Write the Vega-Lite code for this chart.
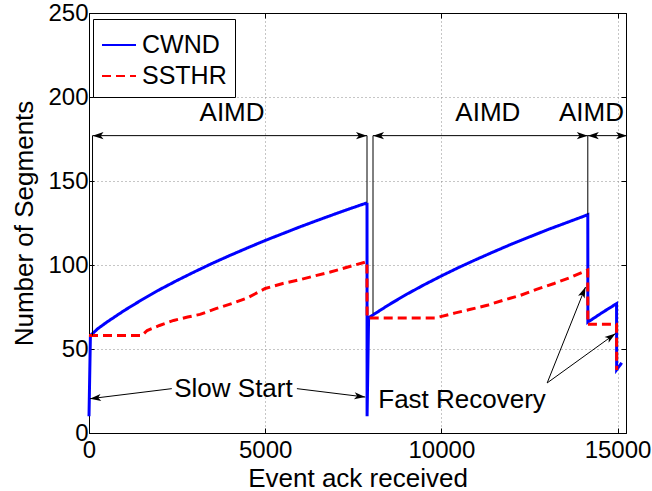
{
  "$schema": "https://vega.github.io/schema/vega-lite/v6.json",
  "width": 537,
  "height": 420,
  "autosize": {"type": "none"},
  "padding": {"left": 89, "top": 13, "right": 26, "bottom": 58},
  "background": "white",
  "datasets": {
    "series": [
      {"series": "CWND", "x": 0, "y": 10},
      {"series": "CWND", "x": 40, "y": 58},
      {"series": "CWND", "x": 250, "y": 62.1},
      {"series": "CWND", "x": 500, "y": 65.9},
      {"series": "CWND", "x": 1000, "y": 72.9},
      {"series": "CWND", "x": 1500, "y": 79.3},
      {"series": "CWND", "x": 2000, "y": 85.3},
      {"series": "CWND", "x": 2500, "y": 90.8},
      {"series": "CWND", "x": 3000, "y": 96.0},
      {"series": "CWND", "x": 3500, "y": 101.0},
      {"series": "CWND", "x": 4000, "y": 105.7},
      {"series": "CWND", "x": 4500, "y": 110.2},
      {"series": "CWND", "x": 5000, "y": 114.6},
      {"series": "CWND", "x": 5500, "y": 118.7},
      {"series": "CWND", "x": 6000, "y": 122.8},
      {"series": "CWND", "x": 6500, "y": 126.7},
      {"series": "CWND", "x": 7000, "y": 130.5},
      {"series": "CWND", "x": 7500, "y": 134.2},
      {"series": "CWND", "x": 7890, "y": 137},
      {"series": "CWND", "x": 7892, "y": 10},
      {"series": "CWND", "x": 7935, "y": 68.5},
      {"series": "CWND", "x": 8000, "y": 69.5},
      {"series": "CWND", "x": 8500, "y": 76.2},
      {"series": "CWND", "x": 9000, "y": 82.4},
      {"series": "CWND", "x": 9500, "y": 88.1},
      {"series": "CWND", "x": 10000, "y": 93.5},
      {"series": "CWND", "x": 10500, "y": 98.6},
      {"series": "CWND", "x": 11000, "y": 103.4},
      {"series": "CWND", "x": 11500, "y": 108.0},
      {"series": "CWND", "x": 12000, "y": 112.5},
      {"series": "CWND", "x": 12500, "y": 116.7},
      {"series": "CWND", "x": 13000, "y": 120.9},
      {"series": "CWND", "x": 13500, "y": 124.8},
      {"series": "CWND", "x": 14000, "y": 128.7},
      {"series": "CWND", "x": 14156, "y": 130},
      {"series": "CWND", "x": 14158, "y": 66},
      {"series": "CWND", "x": 14560, "y": 71.6},
      {"series": "CWND", "x": 14972, "y": 77},
      {"series": "CWND", "x": 14975, "y": 37.7},
      {"series": "CWND", "x": 15120, "y": 41.8},
      {"series": "SSTHR", "x": 0, "y": 58},
      {"series": "SSTHR", "x": 1500, "y": 58},
      {"series": "SSTHR", "x": 1650, "y": 61},
      {"series": "SSTHR", "x": 2000, "y": 64},
      {"series": "SSTHR", "x": 2400, "y": 67},
      {"series": "SSTHR", "x": 2800, "y": 69},
      {"series": "SSTHR", "x": 3150, "y": 70.6},
      {"series": "SSTHR", "x": 3600, "y": 74},
      {"series": "SSTHR", "x": 4100, "y": 77.4},
      {"series": "SSTHR", "x": 4500, "y": 80.5},
      {"series": "SSTHR", "x": 5000, "y": 86},
      {"series": "SSTHR", "x": 5500, "y": 89},
      {"series": "SSTHR", "x": 6000, "y": 91.3},
      {"series": "SSTHR", "x": 6400, "y": 93.5},
      {"series": "SSTHR", "x": 6850, "y": 95.8},
      {"series": "SSTHR", "x": 7300, "y": 98.5},
      {"series": "SSTHR", "x": 7888, "y": 102},
      {"series": "SSTHR", "x": 7893, "y": 68.5},
      {"series": "SSTHR", "x": 9830, "y": 68.5},
      {"series": "SSTHR", "x": 10400, "y": 71.5},
      {"series": "SSTHR", "x": 10800, "y": 73.5},
      {"series": "SSTHR", "x": 11300, "y": 76},
      {"series": "SSTHR", "x": 11750, "y": 79},
      {"series": "SSTHR", "x": 12250, "y": 82},
      {"series": "SSTHR", "x": 12700, "y": 85.5},
      {"series": "SSTHR", "x": 13200, "y": 89},
      {"series": "SSTHR", "x": 13650, "y": 92.5},
      {"series": "SSTHR", "x": 14100, "y": 96.5},
      {"series": "SSTHR", "x": 14154, "y": 97},
      {"series": "SSTHR", "x": 14157, "y": 64.7},
      {"series": "SSTHR", "x": 14972, "y": 64.7},
      {"series": "SSTHR", "x": 14976, "y": 37.5}
    ],
    "annot": [
      {"id": "a1", "x": 100, "y": 177},
      {"id": "a1", "x": 7890, "y": 177},
      {"id": "a2", "x": 8060, "y": 177},
      {"id": "a2", "x": 14156, "y": 177},
      {"id": "a3", "x": 14156, "y": 177},
      {"id": "a3", "x": 15270, "y": 177},
      {"id": "v1", "x": 100, "y": 177},
      {"id": "v1", "x": 100, "y": 58},
      {"id": "v2", "x": 7890, "y": 177},
      {"id": "v2", "x": 7890, "y": 137},
      {"id": "v3", "x": 8060, "y": 177},
      {"id": "v3", "x": 8060, "y": 71},
      {"id": "v4", "x": 14156, "y": 177},
      {"id": "v4", "x": 14156, "y": 130},
      {"id": "s1", "x": 2350, "y": 26.4},
      {"id": "s1", "x": 28, "y": 20.4},
      {"id": "s2", "x": 5900, "y": 26.4},
      {"id": "s2", "x": 7841, "y": 21.4},
      {"id": "f1", "x": 13003, "y": 29.8},
      {"id": "f1", "x": 14091, "y": 86.9},
      {"id": "f2", "x": 13003, "y": 29.8},
      {"id": "f2", "x": 14943, "y": 59.2}
    ],
    "heads": [
      {"head": "R", "x": 7890, "y": 177},
      {"head": "R", "x": 14156, "y": 177},
      {"head": "R", "x": 15270, "y": 177},
      {"head": "L", "x": 100, "y": 177},
      {"head": "L", "x": 8060, "y": 177},
      {"head": "L", "x": 14156, "y": 177},
      {"head": "SSL", "x": 28, "y": 20.4},
      {"head": "SSR", "x": 7841, "y": 21.4},
      {"head": "FR1", "x": 14091, "y": 86.9},
      {"head": "FR2", "x": 14943, "y": 59.2}
    ],
    "labels": [
      {"x": 4060, "y": 186, "text": "AIMD"},
      {"x": 11320, "y": 186, "text": "AIMD"},
      {"x": 14260, "y": 186, "text": "AIMD"},
      {"x": 4100, "y": 21.2, "text": "Slow Start"},
      {"x": 10587, "y": 15.1, "text": "Fast Recovery"}
    ]
  },
  "layer": [
    {
      "data": {"name": "series"},
      "transform": [{"filter": "datum.series === 'CWND'"}],
      "mark": {"type": "line", "strokeWidth": 3},
      "encoding": {
        "x": {"field": "x", "type": "quantitative", "scale": {"domain": [0, 15240], "nice": false},
          "axis": {"orient": "bottom", "values": [0, 5000, 10000, 15000], "format": "d", "title": "Event ack received",
            "grid": true, "gridDash": [1, 3], "gridColor": "#8c8c8c", "gridOpacity": 1, "tickSize": -5, "tickColor": "black",
            "domainColor": "black", "labelFontSize": 24, "labelColor": "black", "labelPadding": 10, "labelFlush": false,
            "titleFontSize": 26, "titleFontWeight": "normal", "titleColor": "black", "titleY": 53, "titleBaseline": "alphabetic"}},
        "y": {"field": "y", "type": "quantitative", "scale": {"domain": [0, 250], "nice": false},
          "axis": {"orient": "left", "values": [0, 50, 100, 150, 200, 250], "title": "Number of Segments",
            "grid": true, "gridDash": [1, 3], "gridColor": "#8c8c8c", "gridOpacity": 1, "tickSize": -5, "tickColor": "black",
            "domainColor": "black", "labelFontSize": 24, "labelColor": "black", "labelPadding": 6,
            "titleFontSize": 26, "titleFontWeight": "normal", "titleColor": "black", "titleX": -57, "titleY": 210,
            "titleAngle": 270, "titleAlign": "center", "titleBaseline": "alphabetic"}},
        "color": {"field": "series", "type": "nominal",
          "scale": {"domain": ["CWND", "SSTHR"], "range": ["#0000ff", "#ff0000"]},
          "legend": {"orient": "none", "legendX": 4, "legendY": 6, "title": null, "symbolType": "stroke", "symbolSize": 1156,
            "symbolStrokeWidth": 2, "labelFontSize": 25, "labelOffset": 5, "padding": 8, "rowPadding": 0,
            "strokeColor": "black", "fillColor": "white", "labelColor": "black", "cornerRadius": 0}},
        "strokeDash": {"field": "series", "type": "nominal",
          "scale": {"domain": ["CWND", "SSTHR"], "range": [[1, 0], [9, 5]]},
          "legend": {"orient": "none", "legendX": 4, "legendY": 6, "title": null, "symbolType": "stroke", "symbolSize": 1156,
            "symbolStrokeWidth": 2, "labelFontSize": 25, "labelOffset": 5, "padding": 8, "rowPadding": 0,
            "strokeColor": "black", "fillColor": "white", "labelColor": "black", "cornerRadius": 0}}
      }
    },
    {
      "data": {"name": "series"},
      "transform": [{"filter": "datum.series === 'SSTHR'"}],
      "mark": {"type": "line", "strokeWidth": 3},
      "encoding": {
        "x": {"field": "x", "type": "quantitative", "scale": {"domain": [0, 15240], "nice": false}, "axis": null},
        "y": {"field": "y", "type": "quantitative", "scale": {"domain": [0, 250], "nice": false}, "axis": null},
        "color": {"field": "series", "type": "nominal"},
        "strokeDash": {"field": "series", "type": "nominal"}
      }
    },
    {
      "data": {"name": "labels"},
      "mark": {"type": "point", "opacity": 0},
      "encoding": {
        "x": {"field": "x", "type": "quantitative", "scale": {"domain": [0, 15240], "nice": false},
          "axis": {"orient": "top", "values": [0, 5000, 10000, 15000], "labels": false, "title": null, "grid": false,
            "tickSize": -5, "tickColor": "black", "domainColor": "black"}},
        "y": {"field": "y", "type": "quantitative", "scale": {"domain": [0, 250], "nice": false},
          "axis": {"orient": "right", "values": [0, 50, 100, 150, 200, 250], "labels": false, "title": null, "grid": false,
            "tickSize": -5, "tickColor": "black", "domainColor": "black"}}
      }
    },
    {
      "data": {"name": "annot"},
      "mark": {"type": "line", "color": "black", "strokeWidth": 1},
      "encoding": {
        "x": {"field": "x", "type": "quantitative", "scale": {"domain": [0, 15240], "nice": false}, "axis": null},
        "y": {"field": "y", "type": "quantitative", "scale": {"domain": [0, 250], "nice": false}, "axis": null},
        "detail": {"field": "id", "type": "nominal"}
      }
    },
    {
      "data": {"name": "heads"},
      "transform": [{"filter": "datum.head === 'R'"}],
      "mark": {"type": "point", "shape": "M0,0L-1,-0.32L-0.75,0L-1,0.32Z", "filled": true, "color": "black", "opacity": 1, "size": 484, "angle": 0},
      "encoding": {
        "x": {"field": "x", "type": "quantitative", "axis": null},
        "y": {"field": "y", "type": "quantitative", "axis": null}
      }
    },
    {
      "data": {"name": "heads"},
      "transform": [{"filter": "datum.head === 'L'"}],
      "mark": {"type": "point", "shape": "M0,0L-1,-0.32L-0.75,0L-1,0.32Z", "filled": true, "color": "black", "opacity": 1, "size": 484, "angle": 180},
      "encoding": {
        "x": {"field": "x", "type": "quantitative", "axis": null},
        "y": {"field": "y", "type": "quantitative", "axis": null}
      }
    },
    {
      "data": {"name": "heads"},
      "transform": [{"filter": "datum.head === 'SSL'"}],
      "mark": {"type": "point", "shape": "M0,0L-1,-0.32L-0.75,0L-1,0.32Z", "filled": true, "color": "black", "opacity": 1, "size": 484, "angle": 173},
      "encoding": {
        "x": {"field": "x", "type": "quantitative", "axis": null},
        "y": {"field": "y", "type": "quantitative", "axis": null}
      }
    },
    {
      "data": {"name": "heads"},
      "transform": [{"filter": "datum.head === 'SSR'"}],
      "mark": {"type": "point", "shape": "M0,0L-1,-0.32L-0.75,0L-1,0.32Z", "filled": true, "color": "black", "opacity": 1, "size": 484, "angle": 7},
      "encoding": {
        "x": {"field": "x", "type": "quantitative", "axis": null},
        "y": {"field": "y", "type": "quantitative", "axis": null}
      }
    },
    {
      "data": {"name": "heads"},
      "transform": [{"filter": "datum.head === 'FR1'"}],
      "mark": {"type": "point", "shape": "M0,0L-1,-0.32L-0.75,0L-1,0.32Z", "filled": true, "color": "black", "opacity": 1, "size": 484, "angle": -67.7},
      "encoding": {
        "x": {"field": "x", "type": "quantitative", "axis": null},
        "y": {"field": "y", "type": "quantitative", "axis": null}
      }
    },
    {
      "data": {"name": "heads"},
      "transform": [{"filter": "datum.head === 'FR2'"}],
      "mark": {"type": "point", "shape": "M0,0L-1,-0.32L-0.75,0L-1,0.32Z", "filled": true, "color": "black", "opacity": 1, "size": 484, "angle": -35.5},
      "encoding": {
        "x": {"field": "x", "type": "quantitative", "axis": null},
        "y": {"field": "y", "type": "quantitative", "axis": null}
      }
    },
    {
      "data": {"name": "labels"},
      "mark": {"type": "text", "fontSize": 26, "align": "center", "baseline": "alphabetic", "color": "black"},
      "encoding": {
        "x": {"field": "x", "type": "quantitative", "axis": null},
        "y": {"field": "y", "type": "quantitative", "axis": null},
        "text": {"field": "text"}
      }
    }
  ],
  "resolve": {"axis": {"x": "independent", "y": "independent"}},
  "config": {
    "font": "Liberation Sans",
    "view": {"stroke": "black", "strokeWidth": 1}
  }
}
